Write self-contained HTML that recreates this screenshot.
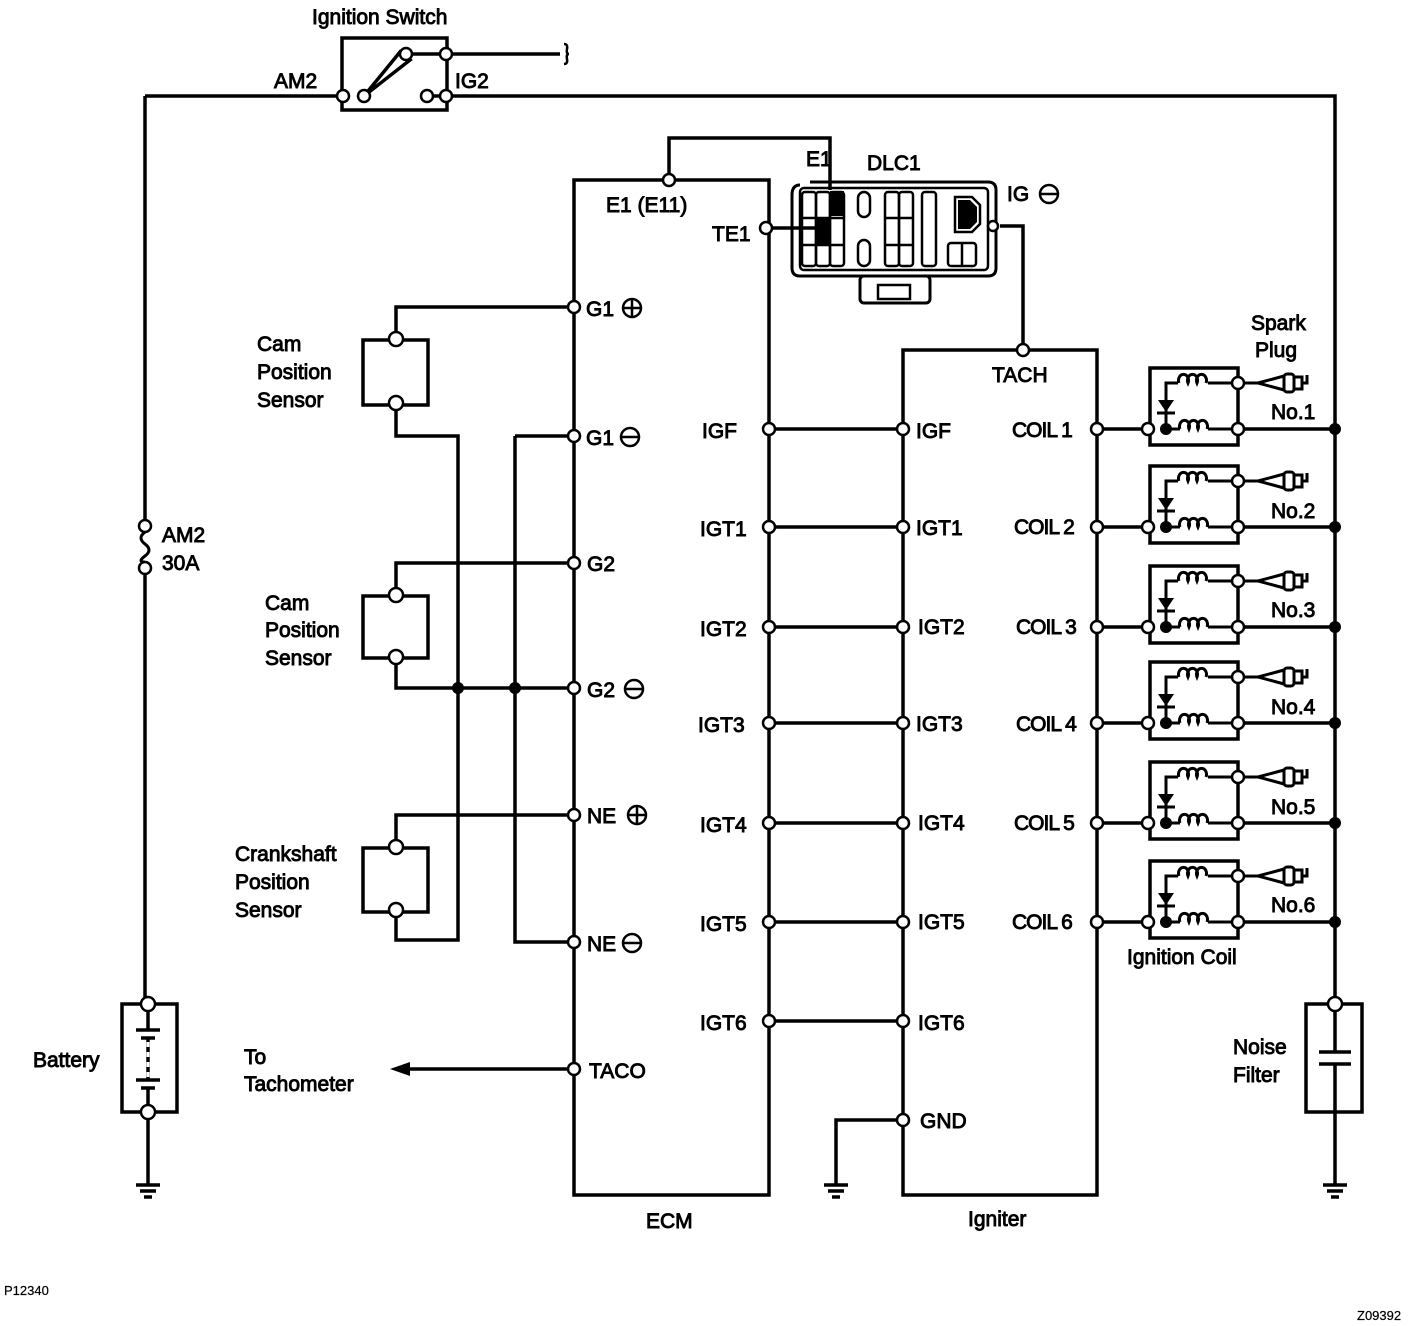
<!DOCTYPE html>
<html><head><meta charset="utf-8"><style>
html,body{margin:0;padding:0;background:#fff;}
svg{display:block}
text{font-family:"Liberation Sans",sans-serif;font-size:21px;fill:#000;stroke:#000;stroke-width:0.9}
</style></head><body>
<svg width="1424" height="1326" viewBox="0 0 1424 1326" xmlns="http://www.w3.org/2000/svg">
<defs>
<g id="coil">
  <line x1="1097" y1="429" x2="1148" y2="429" stroke="#000" stroke-width="3.5"/>
  <line x1="1238" y1="429" x2="1335" y2="429" stroke="#000" stroke-width="3.5"/>
  <rect x="1150" y="368" width="88" height="77" fill="none" stroke="#000" stroke-width="3.5"/>
  <path d="M1166,429 L1180,429 M1208,429 L1238,429 M1166,429 V383 H1178 M1208,383 H1238" fill="none" stroke="#000" stroke-width="3"/>
  <path d="M1180,429 a5,6 0 1 1 9,0 a5,6 0 1 1 9,0 a5,6 0 1 1 9,0" fill="none" stroke="#000" stroke-width="3"/>
  <path d="M1179,383 a5,6 0 1 1 9,0 a5,6 0 1 1 9,0 a5,6 0 1 1 9,0" fill="none" stroke="#000" stroke-width="3"/>
  <path d="M1158,400 L1174,400 L1166,412 Z" fill="#000"/>
  <line x1="1157" y1="413" x2="1175" y2="413" stroke="#000" stroke-width="3"/>
  <circle cx="1166" cy="429" r="6" fill="#000"/>
  <circle cx="1148" cy="429" r="6" fill="#fff" stroke="#000" stroke-width="2.5"/>
  <circle cx="1238" cy="429" r="6" fill="#fff" stroke="#000" stroke-width="2.5"/>
  <circle cx="1238" cy="383" r="6" fill="#fff" stroke="#000" stroke-width="2.5"/>
  <line x1="1244" y1="383" x2="1258" y2="383" stroke="#000" stroke-width="3"/>
  <path d="M1258,383 L1284,376 L1284,390 Z" fill="#fff" stroke="#000" stroke-width="3"/>
  <rect x="1284" y="374" width="10" height="18" rx="3" fill="#fff" stroke="#000" stroke-width="3"/>
  <path d="M1294,377 H1302 V389 H1294 M1302,383 H1307 V375" fill="none" stroke="#000" stroke-width="3"/>
  <circle cx="1335" cy="429" r="6" fill="#000"/>
</g>
</defs>
<g fill="none" stroke="#000" stroke-width="3.5">
  <rect x="342" y="38" width="105" height="72"/>
  <path d="M145,96 H343 M447,96 H1335 V1004 M446,54 H560"/>
  <path d="M564,44 q4,0 3,5 q-1,5 2,5 q-3,0 -2,5 q1,5 -3,5" stroke-width="2.5"/>
  <path d="M364,96 L400,52 L410,60 Z" fill="#fff"/>
  <line x1="412" y1="54" x2="446" y2="54"/>
  <line x1="427" y1="96" x2="446" y2="96"/>
  <path d="M145,96 V520 M145,574 V998"/>
  <path d="M145,532 q-8,6 0,12 q8,6 0,12 q-8,6 0,6" stroke-width="3"/>
  <rect x="122" y="1004" width="55" height="108"/>
  <path d="M148,1010 V1030 M136,1030 H160 M141,1038 H155 M148,1038 V1080" />
  <path d="M148,1042 V1078" stroke="#fff" stroke-width="3" stroke-dasharray="5,5"/>
  <path d="M136,1080 H160 M141,1088 H155 M148,1088 V1106 M148,1118 V1185 M136,1185 H160 M140,1191 H156 M144,1197 H152"/>
  <rect x="574" y="180" width="195" height="1015"/>
  <path d="M669,180 V138 H830 V190"/>
  <line x1="772" y1="228" x2="815" y2="228"/>
  <rect x="903" y="350" width="194" height="845"/>
  <path d="M1023,350 V226 H1000"/>
  <path d="M903,1120 H836 V1185 M824,1185 H848 M828,1191 H844 M832,1197 H840"/>
  <path d="M769,429 H903 M769,527 H903 M769,627 H903 M769,723 H903 M769,823 H903 M769,922 H903 M769,1021 H903"/>
  <rect x="363" y="340" width="65" height="65"/>
  <rect x="363" y="596" width="65" height="62"/>
  <rect x="363" y="848" width="65" height="64"/>
  <path d="M396,339 V307 H574 M396,403 V436 H458 V940 H396 V910 M515,436 H574 M515,436 V942 H574"/>
  <path d="M396,595 V563 H574 M396,657 V688 H574 M396,845 V815 H574"/>
  <line x1="574" y1="1069" x2="400" y2="1069"/>
  <rect x="1306" y="1004" width="56" height="108"/>
  <path d="M1335,1010 V1052 M1319,1052 H1351 M1319,1064 H1351 M1335,1064 V1185 M1323,1185 H1347 M1327,1191 H1343 M1331,1197 H1339"/>
  <path d="M800,185 Q792,185 792,195 V268 Q792,276 800,276 H988 Q996,276 996,268 V190 Q996,182 988,182 H810" stroke-width="3"/>
  <rect x="800" y="188" width="188" height="82" rx="4" stroke-width="2.5"/>
  <rect x="860" y="276" width="70" height="27" rx="4" stroke-width="3"/>
  <rect x="878" y="285" width="32" height="14" stroke-width="2.5"/>
  <g stroke-width="2.5">
    <rect x="802" y="192" width="14" height="74" rx="3"/>
    <rect x="816" y="192" width="14" height="74" rx="3"/>
    <rect x="830" y="192" width="14" height="74" rx="3"/>
    <path d="M802,218 H844 M802,245 H844"/>
    <rect x="858" y="192" width="12" height="25" rx="6"/>
    <rect x="858" y="240" width="12" height="26" rx="6"/>
    <rect x="885" y="192" width="14" height="74" rx="3"/>
    <rect x="899" y="192" width="14" height="74" rx="3"/>
    <rect x="922" y="192" width="14" height="74" rx="3"/>
    <path d="M885,218 H913 M885,245 H913"/>
    <rect x="948" y="243" width="28" height="23" rx="3"/>
    <line x1="962" y1="243" x2="962" y2="266"/>
    <path d="M955,197 H972 L980,205 V224 L972,232 H955 Z"/>
  </g>
</g>
<rect x="830" y="191" width="14" height="25" fill="#000"/>
<rect x="816" y="218" width="14" height="27" fill="#000"/>
<path d="M958,200 H970 L977,207 V222 L970,229 H958 Z" fill="#000"/>
<circle cx="993" cy="226" r="5" fill="#fff" stroke="#000" stroke-width="2.5"/>
<path d="M390,1069 L410,1062 L410,1076 Z" fill="#000"/>
<use href="#coil"/>
<use href="#coil" transform="translate(0,98)"/>
<use href="#coil" transform="translate(0,198)"/>
<use href="#coil" transform="translate(0,294)"/>
<use href="#coil" transform="translate(0,394)"/>
<use href="#coil" transform="translate(0,493)"/>
<g fill="#000">
  <circle cx="458" cy="688" r="6"/><circle cx="515" cy="688" r="6"/>
</g>
<g fill="#fff" stroke="#000" stroke-width="2.5">
  <circle cx="343" cy="96" r="6"/><circle cx="364" cy="96" r="6"/><circle cx="406" cy="54" r="6"/>
  <circle cx="446" cy="54" r="6"/><circle cx="427" cy="96" r="6"/><circle cx="446" cy="96" r="6"/>
  <circle cx="145" cy="526" r="6"/><circle cx="145" cy="568" r="6"/>
  <circle cx="148" cy="1004" r="7"/><circle cx="148" cy="1112" r="7"/>
  <circle cx="1335" cy="1004" r="7"/>
  <circle cx="669" cy="180" r="6"/><circle cx="766" cy="228" r="6"/>
  <circle cx="1023" cy="350" r="6"/>
  <circle cx="574" cy="307" r="6"/><circle cx="574" cy="436" r="6"/><circle cx="574" cy="563" r="6"/>
  <circle cx="574" cy="688" r="6"/><circle cx="574" cy="815" r="6"/><circle cx="574" cy="942" r="6"/>
  <circle cx="574" cy="1069" r="6"/>
  <circle cx="396" cy="339" r="7"/><circle cx="396" cy="403" r="7"/>
  <circle cx="396" cy="595" r="7"/><circle cx="396" cy="657" r="7"/>
  <circle cx="396" cy="847" r="7"/><circle cx="396" cy="910" r="7"/>
  <circle cx="769" cy="429" r="6"/><circle cx="769" cy="527" r="6"/><circle cx="769" cy="627" r="6"/>
  <circle cx="769" cy="723" r="6"/><circle cx="769" cy="823" r="6"/><circle cx="769" cy="922" r="6"/>
  <circle cx="769" cy="1021" r="6"/>
  <circle cx="903" cy="429" r="6"/><circle cx="903" cy="527" r="6"/><circle cx="903" cy="627" r="6"/>
  <circle cx="903" cy="723" r="6"/><circle cx="903" cy="823" r="6"/><circle cx="903" cy="922" r="6"/>
  <circle cx="903" cy="1021" r="6"/><circle cx="903" cy="1120" r="6"/>
  <circle cx="1097" cy="429" r="6"/><circle cx="1097" cy="527" r="6"/><circle cx="1097" cy="627" r="6"/>
  <circle cx="1097" cy="723" r="6"/><circle cx="1097" cy="823" r="6"/><circle cx="1097" cy="922" r="6"/>
  <circle cx="632" cy="308" r="9"/><circle cx="630" cy="437" r="9"/><circle cx="634" cy="689" r="9"/>
  <circle cx="637" cy="815" r="9"/><circle cx="632" cy="943" r="9"/><circle cx="1049" cy="194" r="9"/>
</g>
<g stroke="#000" stroke-width="2.5">
  <path d="M623,308 H641 M632,299 V317 M621,437 H639 M625,689 H643 M628,815 H646 M637,806 V824 M623,943 H641 M1040,194 H1058"/>
</g>
<text x="312" y="24">Ignition Switch</text>
<text x="274" y="88">AM2</text>
<text x="455" y="88">IG2</text>
<text x="162" y="542">AM2</text>
<text x="162" y="570">30A</text>
<text x="33" y="1067">Battery</text>
<text x="244" y="1064">To</text>
<text x="244" y="1091">Tachometer</text>
<text x="257" y="351">Cam</text>
<text x="257" y="379">Position</text>
<text x="257" y="407">Sensor</text>
<text x="265" y="610">Cam</text>
<text x="265" y="637">Position</text>
<text x="265" y="665">Sensor</text>
<text x="235" y="861">Crankshaft</text>
<text x="235" y="889">Position</text>
<text x="235" y="917">Sensor</text>
<text x="586" y="316">G1</text>
<text x="586" y="445">G1</text>
<text x="587" y="571">G2</text>
<text x="587" y="697">G2</text>
<text x="587" y="823">NE</text>
<text x="587" y="951">NE</text>
<text x="589" y="1078">TACO</text>
<text x="606" y="212">E1 (E11)</text>
<text x="712" y="241">TE1</text>
<text x="806" y="166">E1</text>
<text x="867" y="170">DLC1</text>
<text x="1007" y="201">IG</text>
<text x="702" y="438">IGF</text>
<text x="700" y="536">IGT1</text>
<text x="700" y="636">IGT2</text>
<text x="698" y="732">IGT3</text>
<text x="700" y="832">IGT4</text>
<text x="700" y="931">IGT5</text>
<text x="700" y="1030">IGT6</text>
<text x="916" y="438">IGF</text>
<text x="916" y="535">IGT1</text>
<text x="918" y="634">IGT2</text>
<text x="916" y="731">IGT3</text>
<text x="918" y="830">IGT4</text>
<text x="918" y="929">IGT5</text>
<text x="918" y="1030">IGT6</text>
<text x="920" y="1128">GND</text>
<text x="992" y="382">TACH</text>
<text x="1012" y="437" style="letter-spacing:-1px">COIL 1</text>
<text x="1014" y="534" style="letter-spacing:-1px">COIL 2</text>
<text x="1016" y="634" style="letter-spacing:-1px">COIL 3</text>
<text x="1016" y="731" style="letter-spacing:-1px">COIL 4</text>
<text x="1014" y="830" style="letter-spacing:-1px">COIL 5</text>
<text x="1012" y="929" style="letter-spacing:-1px">COIL 6</text>
<text x="1251" y="330">Spark</text>
<text x="1255" y="357">Plug</text>
<text x="1271" y="419">No.1</text>
<text x="1271" y="518">No.2</text>
<text x="1271" y="617">No.3</text>
<text x="1271" y="714">No.4</text>
<text x="1271" y="814">No.5</text>
<text x="1271" y="912">No.6</text>
<text x="1127" y="964">Ignition Coil</text>
<text x="1233" y="1054">Noise</text>
<text x="1233" y="1082">Filter</text>
<text x="646" y="1228">ECM</text>
<text x="968" y="1226">Igniter</text>
<text x="4" y="1295" style="font-size:13px;stroke-width:0.2">P12340</text>
<text x="1357" y="1320" style="font-size:13px;stroke-width:0.2">Z09392</text>
</svg>
</body></html>
